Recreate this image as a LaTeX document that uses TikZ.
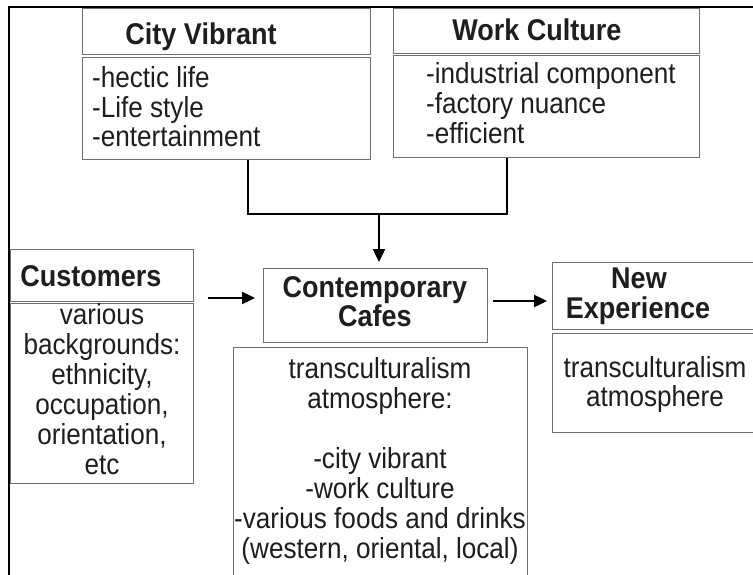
\documentclass[tikz,border=0pt]{standalone}
\usepackage{fontspec}
\setmainfont{Liberation Sans}[FakeStretch=0.9]
\usetikzlibrary{arrows.meta}
\definecolor{boxgray}{HTML}{707070}
\definecolor{txt}{HTML}{1E1E1E}
\begin{document}
\begin{tikzpicture}[x=1pt,y=-1pt,
  box/.style={draw=boxgray, line width=1.3pt, inner sep=0pt, anchor=north west},
  body/.style={font=\fontsize{29}{30}\selectfont, text=txt, inner sep=0pt},
  ttl/.style={font=\fontsize{30}{30}\selectfont\bfseries, text=txt, inner sep=0pt},
  conn/.style={line width=2.4pt, draw=black},
  arr/.style={line width=2.4pt, draw=black, -{Triangle[length=13pt,width=12pt]}}]
\useasboundingbox (0,0) rectangle (753,575);
\fill[white] (0,0) rectangle (753,575);
% outer frame
\draw[line width=2pt] (9,575) -- (9,7) -- (753,7);

% boxes
\node[box, minimum width=288pt, minimum height=46pt]  (cvh) at (82,8) {};
\node[box, minimum width=288pt, minimum height=102pt] (cvb) at (82,57) {};
\node[box, minimum width=306pt, minimum height=45pt]  (wch) at (393,8) {};
\node[box, minimum width=306pt, minimum height=102pt] (wcb) at (393,55) {};
\node[box, minimum width=183pt, minimum height=52pt]  (cuh) at (10,249) {};
\node[box, minimum width=183pt, minimum height=180pt] (cub) at (10,303) {};
\node[box, minimum width=224pt, minimum height=74pt]  (caf) at (263,268) {};
\node[box, minimum width=294pt, minimum height=240pt] (cab) at (233,347) {};
\node[box, minimum width=215pt, minimum height=67pt]  (neh) at (552,262) {};
\node[box, minimum width=215pt, minimum height=99pt]  (neb) at (552,333) {};

% titles
\node[ttl, anchor=base] (cvt) at (201,45) {City Vibrant};
\node[ttl, anchor=base] (wct) at (537,41) {Work Culture};
\node[ttl, anchor=base] (cut) at (91,286) {Customers};
\node[ttl, anchor=base] (cf1) at (375,297) {Contemporary};
\node[ttl, anchor=base] (cf2) at (375,326) {Cafes};
\node[ttl, anchor=base] (ne1) at (639,288) {New};
\node[ttl, anchor=base] (ne2) at (638,318) {Experience};

% body texts
\foreach \t [count=\i] in {-hectic life,-Life style,-entertainment}
  \node[body, anchor=base west] (cv\i) at (92,{88+29.5*(\i-1)}) {\t};
\foreach \t [count=\i] in {-industrial component,-factory nuance,-efficient}
  \node[body, anchor=base west] (wc\i) at (426,{84+30*(\i-1)}) {\t};
\foreach \t [count=\i] in {various,backgrounds:,{ethnicity,},{occupation,},{orientation,},etc}
  \node[body, anchor=base] (cu\i) at (102,{324+30*(\i-1)}) {\t};
\foreach \t [count=\i] in {transculturalism,atmosphere:}
  \node[body, anchor=base] (ca\i) at (380,{378+30*(\i-1)}) {\t};
\foreach \t [count=\i] in {-city vibrant,-work culture,-various foods and drinks,{(western, oriental, local)}}
  \node[body, anchor=base] (cc\i) at (380,{468+30*(\i-1)}) {\t};
\foreach \t [count=\i] in {transculturalism,atmosphere}
  \node[body, anchor=base] (nb\i) at (655,{377+29*(\i-1)}) {\t};

% connectors
\coordinate (jL) at (248,214);
\coordinate (jR) at (507,214);
\coordinate (jM) at (379,214);
\draw[conn] (cvb.south -| jL) |- (jR) -- (wcb.south -| jR);
\draw[arr, shorten >=6pt] (jM) -- (caf.north -| jM);
\coordinate (aY) at (0,298);
\coordinate (bY) at (0,301);
\draw[arr, shorten <=14pt, shorten >=8pt] (cuh.east |- aY) -- (caf.west |- aY);
\draw[arr, shorten <=5pt, shorten >=5pt] (caf.east |- bY) -- (neh.west |- bY);
\end{tikzpicture}
\end{document}
